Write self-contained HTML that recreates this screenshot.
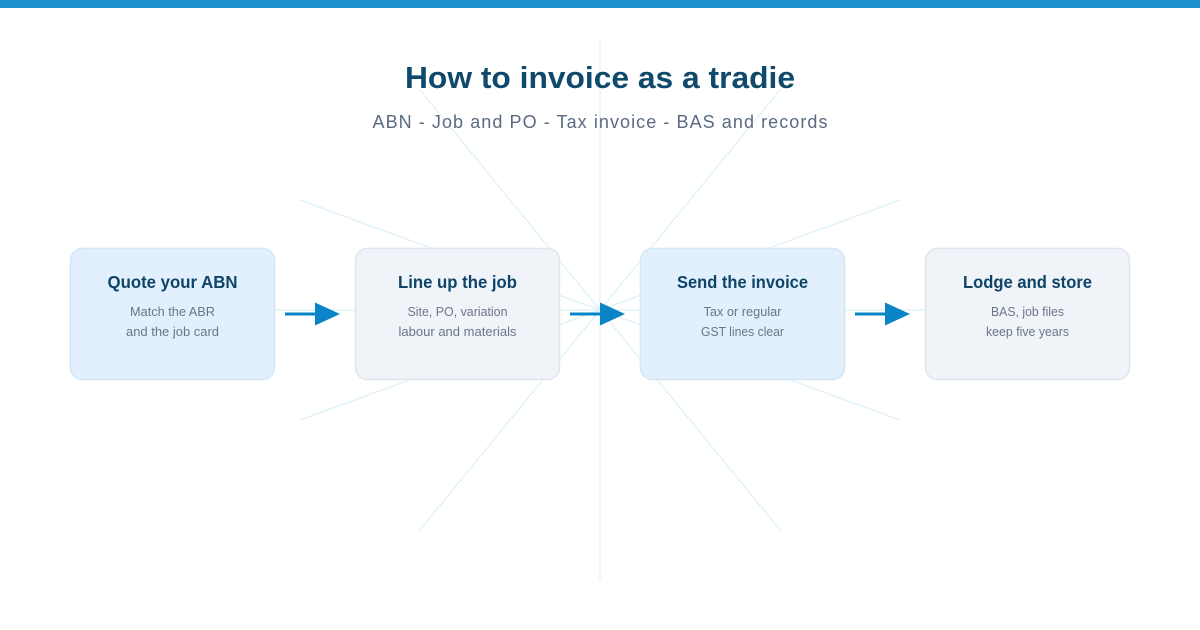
<!DOCTYPE html>
<html>
<head>
<meta charset="utf-8">
<style>
  html, body { margin: 0; padding: 0; background: #ffffff; }
  body { width: 1200px; height: 630px; overflow: hidden; }
  svg { display: block; }
  text { font-family: "Liberation Sans", "DejaVu Sans", sans-serif; }
</style>
</head>
<body>
<svg width="1200" height="630" viewBox="0 0 1200 630" xmlns="http://www.w3.org/2000/svg">
  <rect x="0" y="0" width="1200" height="630" fill="#ffffff"/>
  <!-- top bar -->
  <rect x="0" y="0" width="1200" height="8" fill="#1e91ce"/>

  <!-- background rays -->
  <g stroke="#dbf1f8" stroke-width="1.2" fill="none">
    <line x1="600" y1="40" x2="600" y2="580"/>
    <line x1="240" y1="310" x2="960" y2="310"/>
    <line x1="300" y1="200" x2="900" y2="420"/>
    <line x1="300" y1="420" x2="900" y2="200"/>
    <line x1="420" y1="90" x2="780" y2="530"/>
    <line x1="780" y1="90" x2="420" y2="530"/>
  </g>

  <!-- title -->
  <text x="600" y="88" text-anchor="middle" font-size="31" font-weight="bold" fill="#0f4a6c" textLength="390" lengthAdjust="spacingAndGlyphs">How to invoice as a tradie</text>
  <text x="600" y="128" text-anchor="middle" font-size="18" fill="#5a6a82" textLength="455" lengthAdjust="spacing">ABN - Job and PO - Tax invoice - BAS and records</text>

  <!-- boxes -->
  <g>
    <rect x="70.5" y="248.5" width="204" height="131" rx="12" ry="12" fill="#e1f0fc" stroke="#d3e6f6" stroke-width="1.5"/>
    <rect x="355.5" y="248.5" width="204" height="131" rx="12" ry="12" fill="#f0f4f9" stroke="#dee5ee" stroke-width="1.5"/>
    <rect x="640.5" y="248.5" width="204" height="131" rx="12" ry="12" fill="#e1f0fc" stroke="#d3e6f6" stroke-width="1.5"/>
    <rect x="925.5" y="248.5" width="204" height="131" rx="12" ry="12" fill="#f0f4f9" stroke="#dee5ee" stroke-width="1.5"/>
  </g>

  <!-- box titles -->
  <g font-size="17.5" font-weight="bold" fill="#0d4468" text-anchor="middle">
    <text x="172.5" y="288" textLength="130" lengthAdjust="spacingAndGlyphs">Quote your ABN</text>
    <text x="457.5" y="288" textLength="119" lengthAdjust="spacingAndGlyphs">Line up the job</text>
    <text x="742.5" y="288" textLength="131" lengthAdjust="spacingAndGlyphs">Send the invoice</text>
    <text x="1027.5" y="288" textLength="129" lengthAdjust="spacingAndGlyphs">Lodge and store</text>
  </g>

  <!-- box body -->
  <g font-size="13" fill="#6a7689" text-anchor="middle">
    <text x="172.5" y="316" textLength="85" lengthAdjust="spacingAndGlyphs">Match the ABR</text>
    <text x="172.5" y="336" textLength="93" lengthAdjust="spacingAndGlyphs">and the job card</text>
    <text x="457.5" y="316" textLength="100" lengthAdjust="spacingAndGlyphs">Site, PO, variation</text>
    <text x="457.5" y="336" textLength="118" lengthAdjust="spacingAndGlyphs">labour and materials</text>
    <text x="742.5" y="316" textLength="78" lengthAdjust="spacingAndGlyphs">Tax or regular</text>
    <text x="742.5" y="336" textLength="83" lengthAdjust="spacingAndGlyphs">GST lines clear</text>
    <text x="1027.5" y="316" textLength="73" lengthAdjust="spacingAndGlyphs">BAS, job files</text>
    <text x="1027.5" y="336" textLength="83" lengthAdjust="spacingAndGlyphs">keep five years</text>
  </g>

  <!-- arrows -->
  <g fill="#0a84c6" stroke="none">
    <rect x="285" y="312.5" width="32" height="3"/>
    <polygon points="315,302.5 340,314 315,325.5"/>
    <rect x="570" y="312.5" width="32" height="3"/>
    <polygon points="600,302.5 625,314 600,325.5"/>
    <rect x="855" y="312.5" width="32" height="3"/>
    <polygon points="885,302.5 910,314 885,325.5"/>
  </g>
</svg>
</body>
</html>
